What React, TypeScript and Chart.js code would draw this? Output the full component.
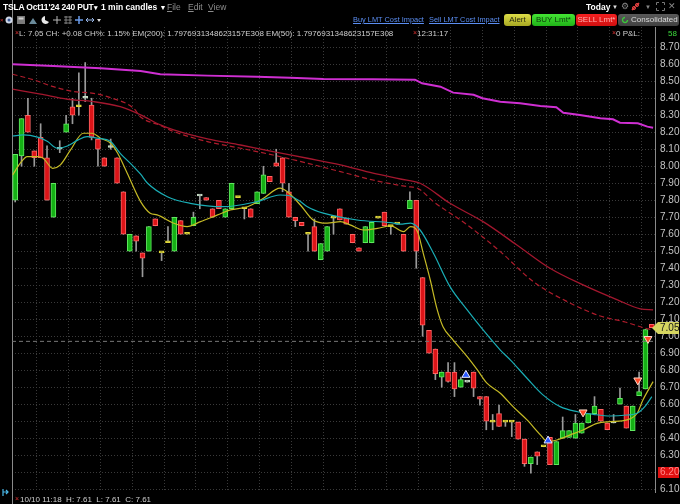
import React, { useEffect, useRef } from "react";
import { Chart, registerables } from "chart.js";

Chart.register(...registerables);

// ---------- candle data (1 min candles, TSLA Oct11'24 240 PUT) ----------
const opens = [
  7.80, 8.06, 8.30, 8.09, 8.17, 8.05, 7.70, 8.10, 8.20, 8.35,
  8.35, 8.40, 8.36, 8.16, 8.05, 8.11, 8.05, 7.85, 7.50, 7.59,
  7.49, 7.50, 7.69, 7.49, 7.55, 7.50, 7.68, 7.60, 7.65, 7.825,
  7.815, 7.75, 7.80, 7.70, 7.75, 7.815, 7.75, 7.75, 7.78, 7.84,
  7.94, 8.02, 8.05, 7.85, 7.70, 7.67, 7.60, 7.645, 7.45, 7.50,
  7.695, 7.75, 7.695, 7.60, 7.52, 7.55, 7.55, 7.695, 7.73, 7.645,
  7.66, 7.60, 7.75, 7.80, 7.345, 7.035, 6.925, 6.76, 6.79, 6.79,
  6.70, 6.73, 6.79, 6.645, 6.645, 6.495, 6.545, 6.495, 6.495, 6.495,
  6.395, 6.25, 6.32, 6.35, 6.405, 6.245, 6.40, 6.405, 6.40, 6.43,
  6.49, 6.545, 6.57, 6.49, 6.49, 6.60, 6.59, 6.445, 6.65, 6.69,
  7.07,
];
const highs = [
  8.07, 8.28, 8.40, 8.09, 8.25, 8.12, 7.90, 8.15, 8.30, 8.40,
  8.55, 8.61, 8.40, 8.16, 8.05, 8.16, 8.05, 7.85, 7.60, 7.59,
  7.49, 7.645, 7.69, 7.49, 7.645, 7.70, 7.68, 7.60, 7.73, 7.825,
  7.815, 7.75, 7.80, 7.75, 7.90, 7.815, 7.75, 7.75, 7.85, 8.00,
  7.94, 8.10, 8.05, 7.90, 7.70, 7.67, 7.60, 7.69, 7.545, 7.645,
  7.695, 7.75, 7.695, 7.60, 7.52, 7.645, 7.67, 7.695, 7.73, 7.645,
  7.66, 7.60, 7.85, 7.80, 7.345, 7.035, 6.925, 6.79, 6.845, 6.845,
  6.76, 6.73, 6.79, 6.645, 6.645, 6.54, 6.595, 6.495, 6.495, 6.495,
  6.395, 6.29, 6.32, 6.35, 6.405, 6.38, 6.525, 6.445, 6.54, 6.49,
  6.545, 6.645, 6.57, 6.49, 6.54, 6.695, 6.59, 6.59, 6.79, 7.04,
  7.07,
];
const lows = [
  7.79, 8.00, 8.20, 8.00, 8.05, 7.80, 7.70, 8.08, 8.20, 8.25,
  8.30, 8.38, 8.155, 8.00, 8.00, 8.10, 7.90, 7.60, 7.50, 7.50,
  7.35, 7.50, 7.65, 7.445, 7.55, 7.50, 7.60, 7.60, 7.65, 7.75,
  7.80, 7.70, 7.75, 7.70, 7.75, 7.815, 7.69, 7.70, 7.78, 7.84,
  7.91, 8.00, 7.85, 7.70, 7.645, 7.65, 7.50, 7.50, 7.45, 7.50,
  7.60, 7.685, 7.66, 7.55, 7.50, 7.55, 7.55, 7.695, 7.65, 7.60,
  7.66, 7.50, 7.75, 7.40, 7.00, 6.90, 6.745, 6.70, 6.73, 6.645,
  6.70, 6.73, 6.645, 6.595, 6.45, 6.45, 6.47, 6.47, 6.41, 6.395,
  6.235, 6.195, 6.245, 6.35, 6.245, 6.245, 6.40, 6.405, 6.40, 6.43,
  6.49, 6.545, 6.50, 6.45, 6.49, 6.60, 6.46, 6.445, 6.65, 6.69,
  7.05,
];
const closes = [
  8.07, 8.28, 8.20, 8.05, 8.05, 7.80, 7.90, 8.10, 8.25, 8.30,
  8.35, 8.40, 8.17, 8.10, 8.00, 8.11, 7.90, 7.60, 7.60, 7.56,
  7.46, 7.645, 7.65, 7.49, 7.55, 7.70, 7.60, 7.60, 7.70, 7.825,
  7.80, 7.70, 7.75, 7.75, 7.90, 7.815, 7.75, 7.70, 7.85, 7.95,
  7.91, 8.00, 7.90, 7.70, 7.68, 7.65, 7.60, 7.50, 7.545, 7.645,
  7.695, 7.685, 7.66, 7.55, 7.50, 7.645, 7.67, 7.695, 7.65, 7.645,
  7.66, 7.50, 7.80, 7.50, 7.065, 6.90, 6.78, 6.79, 6.735, 6.69,
  6.745, 6.73, 6.695, 6.63, 6.50, 6.495, 6.47, 6.495, 6.495, 6.395,
  6.25, 6.29, 6.295, 6.35, 6.245, 6.38, 6.445, 6.445, 6.49, 6.49,
  6.545, 6.59, 6.50, 6.45, 6.49, 6.635, 6.46, 6.59, 6.675, 7.04,
  7.05,
];
// unchanged candles drawn in the light tone instead of yellow
const lightDoji = [7, 11, 15, 29, 71, 94];

// ---------- indicator lines (x = candle index) ----------
const magentaX = [-0.4, 6.0, 13.4, 19.7, 22.8, 30.2, 38.0, 43.2, 48.4, 56.2, 62.8, 63.9, 66.8, 68.8, 72.0, 73.4, 76.2, 79.3, 82.5, 85.0, 86.1, 88.7, 91.9, 93.9, 95.0, 97.8, 99.3, 100.2];
const magentaY = [8.60, 8.59, 8.576, 8.56, 8.541, 8.533, 8.527, 8.521, 8.513, 8.512, 8.509, 8.488, 8.468, 8.433, 8.42, 8.40, 8.38, 8.371, 8.355, 8.347, 8.315, 8.302, 8.282, 8.276, 8.256, 8.253, 8.233, 8.227];

const redX = [-0.4, 4.0, 8.2, 12.3, 16.5, 19.7, 22.8, 24.9, 30.2, 35.4, 40.5, 45.9, 51.1, 56.2, 60.5, 63.6, 68.3, 73.5, 78.8, 84.0, 89.2, 94.6, 98.2, 100.2];
const redY = [8.453, 8.424, 8.394, 8.38, 8.35, 8.302, 8.243, 8.214, 8.161, 8.125, 8.086, 8.047, 8.008, 7.959, 7.925, 7.90, 7.782, 7.674, 7.537, 7.40, 7.302, 7.214, 7.161, 7.155];

const dashX = [-0.4, 2.9, 6.0, 9.2, 12.3, 15.0, 18.6, 19.7, 22.8, 24.9, 30.2, 35.4, 40.5, 45.9, 51.1, 56.2, 61.6, 63.2, 65.7, 71.0, 76.2, 81.4, 86.7, 91.9, 95.8, 99.0, 100.2];
const dashY = [8.541, 8.508, 8.468, 8.439, 8.429, 8.403, 8.341, 8.29, 8.24, 8.204, 8.145, 8.106, 8.066, 8.018, 7.968, 7.919, 7.88, 7.871, 7.792, 7.655, 7.498, 7.321, 7.204, 7.119, 7.084, 7.047, 7.037];

const cyanX = [-0.4, 1.3, 3.5, 5.1, 6.6, 8.2, 9.9, 11.3, 12.9, 15.0, 16.5, 18.6, 19.7, 20.8, 23.9, 27.5, 32.7, 38.0, 41.6, 43.2, 44.8, 45.9, 48.4, 53.7, 59.0, 60.5, 62.1, 63.6, 65.7, 68.3, 71.0, 73.5, 76.2, 77.8, 80.4, 82.9, 85.6, 88.3, 90.8, 93.5, 96.1, 97.7, 98.9, 100.0];
const cyanY = [8.178, 8.184, 8.171, 8.145, 8.106, 8.119, 8.155, 8.174, 8.165, 8.145, 8.076, 7.998, 7.953, 7.90, 7.821, 7.782, 7.762, 7.792, 7.831, 7.825, 7.792, 7.762, 7.724, 7.684, 7.668, 7.659, 7.665, 7.625, 7.488, 7.292, 7.155, 7.037, 6.919, 6.86, 6.753, 6.655, 6.586, 6.556, 6.541, 6.531, 6.537, 6.547, 6.586, 6.645];

const yellowX = [-0.4, 0.8, 1.9, 3.5, 4.4, 5.9, 7.1, 8.7, 10.7, 12.1, 13.4, 15.0, 16.1, 17.6, 19.7, 21.2, 22.3, 24.9, 27.0, 29.1, 31.8, 33.8, 36.5, 39.0, 41.6, 42.7, 44.8, 46.8, 49.0, 51.1, 52.6, 54.7, 56.9, 59.0, 61.0, 62.1, 63.2, 64.1, 65.2, 66.3, 67.2, 68.8, 71.0, 72.6, 74.1, 76.2, 78.2, 80.4, 82.5, 83.6, 85.1, 87.2, 89.2, 91.4, 93.5, 96.1, 97.7, 98.6, 100.2];
const yellowY = [7.949, 8.018, 8.056, 8.056, 8.047, 7.988, 8.008, 8.096, 8.194, 8.194, 8.165, 8.135, 8.076, 7.959, 7.792, 7.724, 7.714, 7.665, 7.645, 7.674, 7.714, 7.743, 7.762, 7.812, 7.871, 7.851, 7.772, 7.684, 7.665, 7.674, 7.655, 7.625, 7.635, 7.649, 7.615, 7.645, 7.615, 7.488, 7.331, 7.155, 7.056, 6.978, 6.88, 6.802, 6.724, 6.665, 6.586, 6.508, 6.42, 6.38, 6.39, 6.42, 6.449, 6.488, 6.498, 6.508, 6.547, 6.625, 6.733];

// ---------- trade markers ----------
const buyX = [70.8, 83.7];
const buyY = [6.772, 6.386];
const sellX = [89.2, 97.8, 99.4];
const sellY = [6.553, 6.741, 6.985];

// ---------- levels / ticks ----------
const avgCostLevel = 6.97;
const redTagLevel = 6.2;
const yTicks = [6.1, 6.2, 6.3, 6.4, 6.5, 6.6, 6.7, 6.8, 6.9, 7.0, 7.1, 7.2, 7.3, 7.4, 7.5, 7.6, 7.7, 7.8, 7.9, 8.0, 8.1, 8.2, 8.3, 8.4, 8.5, 8.6, 8.7];
const xGridTicks = [3.4, 8.4, 13.4, 18.4, 23.4, 28.4, 33.4, 38.4, 43.4, 48.4, 53.4, 58.4, 63.4, 68.4, 73.4, 78.4, 83.4, 88.4, 93.4, 98.4];

const UP = "#15b015";
const UP_B = "#60e860";
const DN = "#dc1418";
const DN_B = "#ff6464";
const FLAT = "#e0d838";
const LIGHT = "#c6dcc6";

const pts = (xs: number[], ys: number[]) => xs.map((x, i) => ({ x, y: ys[i] }));

const FONT = '"Liberation Sans", Arial, sans-serif';

export default function App() {
  const ref = useRef<HTMLCanvasElement>(null);

  useEffect(() => {
    const canvas = ref.current;
    if (!canvas) return;
    const n = opens.length;
    const idx = Array.from({ length: n }, (_, i) => i);
    const fill = idx.map((i) =>
      closes[i] > opens[i] ? UP : closes[i] < opens[i] ? DN : lightDoji.includes(i) ? LIGHT : FLAT
    );
    const edge = idx.map((i) =>
      closes[i] > opens[i] ? UP_B : closes[i] < opens[i] ? DN_B : lightDoji.includes(i) ? LIGHT : FLAT
    );

    const decor = {
      id: "decor",
      beforeDatasetsDraw(chart: any) {
        const { ctx, chartArea } = chart;
        ctx.save();
        ctx.strokeStyle = "#8a8a8a";
        ctx.lineWidth = 1;
        ctx.beginPath();
        ctx.moveTo(Math.round(chartArea.left) + 0.5, chartArea.top - 27);
        ctx.lineTo(Math.round(chartArea.left) + 0.5, chartArea.bottom + 12);
        ctx.stroke();
        ctx.restore();
      },
      afterDraw(chart: any) {
        const { ctx, chartArea } = chart;
        const ys = chart.scales.y;
        const x0 = chartArea.right;
        const tag = (v: number, bg: string, fg: string, arrow: boolean) => {
          const py = Math.round(ys.getPixelForValue(v));
          ctx.save();
          ctx.fillStyle = bg;
          ctx.beginPath();
          if (arrow) {
            ctx.moveTo(x0 - 3, py);
            ctx.lineTo(x0 + 3, py - 6);
            ctx.lineTo(x0 + 24, py - 6);
            ctx.lineTo(x0 + 24, py + 6);
            ctx.lineTo(x0 + 3, py + 6);
          } else {
            ctx.rect(x0 + 3, py - 5, 21, 11);
          }
          ctx.closePath();
          ctx.fill();
          ctx.fillStyle = fg;
          ctx.font = `10px ${FONT}`;
          ctx.textBaseline = "middle";
          ctx.textAlign = "left";
          ctx.fillText(v.toFixed(2), x0 + 5, py + 0.5);
          ctx.restore();
        };
        tag(closes[closes.length - 1], "#d6d660", "#1c1c1c", true);
        tag(redTagLevel, "#e01010", "#ff8a8a", false);
      },
    };

    const chart = new Chart(canvas, {
      type: "bar",
      data: {
        datasets: [
          {
            type: "scatter",
            data: pts(buyX, buyY),
            pointStyle: "triangle",
            pointRadius: 4.6,
            backgroundColor: "#2a58ff",
            borderColor: "#e8ecff",
            borderWidth: 1,
            order: 0,
          } as any,
          {
            type: "scatter",
            data: pts(sellX, sellY),
            pointStyle: "triangle",
            rotation: 180,
            pointRadius: 4.6,
            backgroundColor: "#ff4a28",
            borderColor: "#ffd8c8",
            borderWidth: 1,
            order: 0,
          } as any,
          {
            type: "line",
            data: pts(magentaX, magentaY),
            borderColor: "#cf2fd2",
            borderWidth: 2,
            pointRadius: 0,
            tension: 0,
            order: 1,
          } as any,
          {
            type: "line",
            data: pts(redX, redY),
            borderColor: "#a3172e",
            borderWidth: 1.3,
            pointRadius: 0,
            cubicInterpolationMode: "monotone",
            order: 1,
          } as any,
          {
            type: "line",
            data: pts(dashX, dashY),
            borderColor: "#b01c2c",
            borderWidth: 1.2,
            borderDash: [5, 3],
            pointRadius: 0,
            cubicInterpolationMode: "monotone",
            order: 1,
          } as any,
          {
            type: "line",
            data: pts(cyanX, cyanY),
            borderColor: "#1aaeb6",
            borderWidth: 1.2,
            pointRadius: 0,
            cubicInterpolationMode: "monotone",
            order: 1,
          } as any,
          {
            type: "line",
            data: pts(yellowX, yellowY),
            borderColor: "#c6bb26",
            borderWidth: 1.2,
            pointRadius: 0,
            cubicInterpolationMode: "monotone",
            order: 1,
          } as any,
          {
            type: "line",
            data: [
              { x: -0.5, y: avgCostLevel },
              { x: 100.5, y: avgCostLevel },
            ],
            borderColor: "#777777",
            borderWidth: 1,
            borderDash: [4, 3],
            pointRadius: 0,
            order: 1,
          } as any,
          {
            type: "bar",
            data: idx.map((i) => ({ x: i, y: [opens[i], closes[i]] })),
            backgroundColor: fill,
            borderColor: edge,
            borderWidth: 1,
            borderSkipped: false,
            barThickness: 5,
            minBarLength: 2,
            grouped: false,
            order: 2,
          } as any,
          {
            type: "bar",
            data: idx.map((i) => ({ x: i, y: [lows[i], highs[i]] })),
            backgroundColor: "#9a9a9a",
            borderWidth: 0,
            barThickness: 1,
            grouped: false,
            order: 3,
          } as any,
        ],
      },
      options: {
        animation: false,
        responsive: false,
        events: [],
        layout: { padding: { left: 12, right: 0, top: 27, bottom: 12 } },
        plugins: { legend: { display: false }, tooltip: { enabled: false } },
        scales: {
          x: {
            type: "linear",
            offset: false,
            min: -0.5,
            max: 100.5,
            afterBuildTicks: (s: any) => {
              s.ticks = xGridTicks.map((v) => ({ value: v }));
            },
            ticks: { display: false },
            grid: { color: "#3a3a3a", drawTicks: false, lineWidth: 1, offset: false },
            border: { display: false, dash: [1, 2] },
          },
          y: {
            type: "linear",
            position: "right",
            min: 6.084,
            max: 8.819,
            afterBuildTicks: (s: any) => {
              s.ticks = yTicks.map((v) => ({ value: v }));
            },
            afterFit: (s: any) => {
              s.width = 25;
            },
            ticks: {
              color: "#c4c4c4",
              font: { family: FONT, size: 10 },
              padding: 5,
              callback: (v: any) => Number(v).toFixed(2),
            },
            grid: { color: "#3a3a3a", drawTicks: false, lineWidth: 1 },
            border: { display: true, color: "#8a8a8a", width: 1, dash: [1, 2] },
          },
        },
      } as any,
      plugins: [decor],
    });
    return () => chart.destroy();
  }, []);

  const abs = (left: number, top: number, extra: any = {}) => ({
    position: "absolute" as const,
    left,
    top,
    whiteSpace: "nowrap" as const,
    lineHeight: "12px",
    ...extra,
  });
  const redX_ = (left: number, top: number) => (
    <span style={abs(left, top, { color: "#e03030", fontSize: 7, lineHeight: "10px" })}>×</span>
  );
  const btn = (left: number, width: number, bg: string, color: string, label: string) => (
    <div
      style={abs(left, 14, {
        width,
        height: 12,
        background: bg,
        color,
        fontSize: 8,
        lineHeight: "12px",
        textAlign: "center",
        borderRadius: 3,
      })}
    >
      {label}
    </div>
  );

  return (
    <div
      style={{
        position: "fixed",
        left: 0,
        top: 0,
        width: 680,
        height: 504,
        background: "#000",
        overflow: "hidden",
        fontFamily: FONT,
        color: "#d0d0d0",
      }}
    >
      <canvas ref={ref} width={680} height={504} style={{ position: "absolute", left: 0, top: 0, width: 680, height: 504 }} />
      <div style={{ position: "absolute", left: 0, top: 0, width: 680, height: 504, zIndex: 1 }}>
        {/* row 1 */}
        <div style={abs(3, 1, { color: "#fff", fontWeight: 700, fontSize: 8.5, letterSpacing: -0.2 })}>
          TSLA Oct11'24 240 PUT<span style={{ fontSize: 7 }}>▾</span>
        </div>
        <div style={abs(101, 1, { color: "#fff", fontWeight: 700, fontSize: 8.5 })}>
          1 min candles <span style={{ fontSize: 7 }}>▼</span>
        </div>
        <div style={abs(167, 1, { color: "#8c8c8c", fontSize: 8.5 })}>
          <u>F</u>ile
        </div>
        <div style={abs(188, 1, { color: "#8c8c8c", fontSize: 8.5 })}>
          <u>E</u>dit
        </div>
        <div style={abs(208, 1, { color: "#8c8c8c", fontSize: 8.5 })}>
          <u>V</u>iew
        </div>
        <div style={abs(586, 1, { color: "#fff", fontWeight: 700, fontSize: 8.5 })}>Today</div>
        <div style={abs(612, 1, { color: "#ddd", fontSize: 6 })}>▼</div>
        <div style={abs(621, 0, { color: "#888", fontSize: 9 })}>⚙</div>
        <svg style={{ position: "absolute", left: 631, top: 2 }} width="9" height="9" viewBox="0 0 9 9">
          <path d="M1 8 L4 5 M5 4 L8 1" stroke="#e04040" strokeWidth="1.6" />
          <circle cx="3" cy="6" r="1.6" fill="none" stroke="#e04040" strokeWidth="1" />
          <circle cx="6" cy="3" r="1.6" fill="none" stroke="#e04040" strokeWidth="1" />
        </svg>
        <div style={abs(645, 1, { color: "#888", fontSize: 6 })}>▼</div>
        <svg style={{ position: "absolute", left: 656, top: 2 }} width="9" height="9" viewBox="0 0 9 9">
          <path d="M0.5 3 V0.5 H3 M6 0.5 H8.5 V3 M8.5 6 V8.5 H6 M3 8.5 H0.5 V6" stroke="#777" fill="none" />
        </svg>
        <div style={abs(668, 0, { color: "#888", fontSize: 9 })}>✕</div>

        {/* row 2 */}
        <svg style={{ position: "absolute", left: 0, top: 14 }} width="104" height="12" viewBox="0 0 104 12">
          <text x="0" y="8" fill="#d03030" fontSize="6">×</text>
          <circle cx="9" cy="6" r="3.5" fill="#cfd8e8" />
          <circle cx="9" cy="6" r="1.5" fill="#3a5a9a" />
          <rect x="17" y="2" width="8" height="8" fill="#7a7a7a" />
          <rect x="18.5" y="3.5" width="5" height="2" fill="#cfcfcf" />
          <path d="M29 10 L33 4 L37 10 Z" fill="#6a8a9a" />
          <path d="M45 2 A4 4 0 1 0 49 8 L45 6 Z" fill="#e8e8e8" />
          <path d="M57 2 V10 M53 6 H61" stroke="#b8b8b8" strokeWidth="1" />
          <path d="M64 3 H72 M64 6 H72 M64 9 H72 M66 2 V10 M70 2 V10" stroke="#9a9a9a" strokeWidth="0.8" />
          <path d="M79 2 V10 M75 6 H83" stroke="#6a9ae8" strokeWidth="1.5" />
          <path d="M86 6 H94 M88 4 L86 6 L88 8 M92 4 L94 6 L92 8" stroke="#9ab8e8" strokeWidth="1" fill="none" />
          <path d="M97 5 L101 5 L99 8 Z" fill="#ddd" />
        </svg>
        <div style={abs(353, 14, { color: "#5b8ef2", fontSize: 7.4, textDecoration: "underline" })}>
          Buy LMT Cost Impact
        </div>
        <div style={abs(429, 14, { color: "#5b8ef2", fontSize: 7.4, textDecoration: "underline" })}>
          Sell LMT Cost Impact
        </div>
        {btn(504, 27, "linear-gradient(#dede48,#a8a822)", "#2a2a10", "Alert")}
        {btn(532, 43, "linear-gradient(#44e434,#20b418)", "#0c3a0c", "BUY Lmt*")}
        {btn(576, 41, "linear-gradient(#f42020,#d01010)", "#ffb0b0", "SELL Lmt*")}
        <div
          style={abs(618, 14, {
            width: 61,
            height: 12,
            background: "linear-gradient(#5a5a5a,#404040)",
            color: "#dcdcdc",
            fontSize: 8,
            borderRadius: 3,
          })}
        >
          <svg style={{ position: "absolute", left: 3, top: 2 }} width="8" height="8" viewBox="0 0 8 8">
            <path d="M6.5 4 A2.5 2.5 0 1 1 4 1.5" stroke="#3ac83a" strokeWidth="1.4" fill="none" />
          </svg>
          <span style={{ position: "absolute", left: 13, top: 0 }}>Consolidated</span>
        </div>

        {/* row 3 */}
        {redX_(15, 28)}
        <div style={abs(19, 28, { color: "#cfcfcf", fontSize: 8 })}>
          L: 7.05 CH: +0.08 CH%: 1.15% EM(200): 1.7976931348623157E308 EM(50): 1.7976931348623157E308
        </div>
        {redX_(413, 28)}
        <div style={abs(417, 28, { color: "#cfcfcf", fontSize: 8 })}>12:31:17</div>
        {redX_(612, 28)}
        <div style={abs(616, 28, { color: "#cfcfcf", fontSize: 8 })}>0 P&amp;L:</div>
        <div style={abs(668, 28, { color: "#3cdc3c", fontSize: 8 })}>58</div>

        {/* bottom status */}
        <svg style={{ position: "absolute", left: 2, top: 488 }} width="8" height="9" viewBox="0 0 8 9">
          <path d="M1 1 V8 M1 4 H6 M4 2 L6 4 L4 6" stroke="#4ab8e8" strokeWidth="1.2" fill="none" />
        </svg>
        {redX_(15, 494)}
        <div style={abs(20, 494, { color: "#cfcfcf", fontSize: 8 })}>
          10/10 11:18&nbsp;&nbsp;H: 7.61&nbsp;&nbsp;L: 7.61&nbsp;&nbsp;C: 7.61
        </div>
      </div>
    </div>
  );
}
